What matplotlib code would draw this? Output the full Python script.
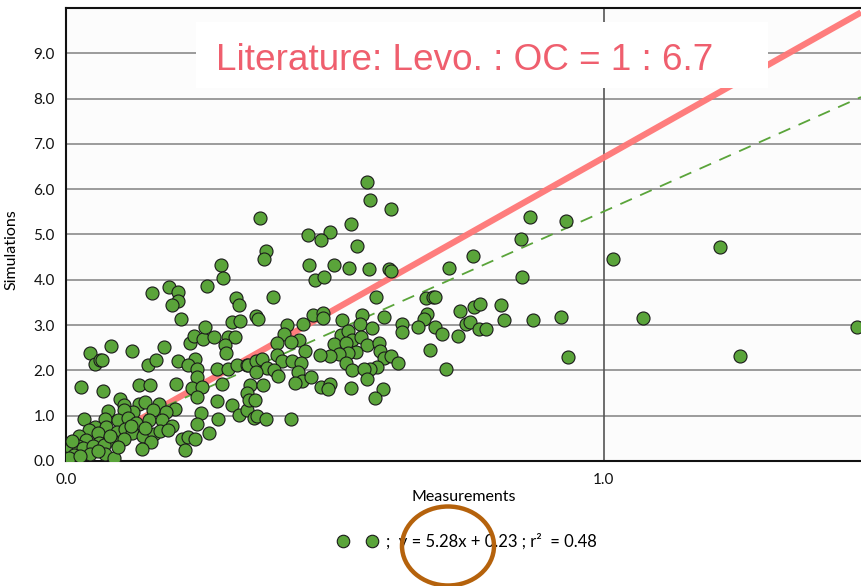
import numpy as np
import matplotlib.pyplot as plt
from matplotlib.lines import Line2D
from matplotlib.patches import Ellipse, Rectangle
from matplotlib.legend_handler import HandlerTuple

plt.rcParams['font.family'] = ['Lato', 'DejaVu Sans']

# Measured vs simulated values (x = measurements, y = simulations)
meas = np.array([
    # dense low cluster
    0.044, 0.084, 0.122, 0.054, 0.063, 0.067, 0.182, 0.152, 0.167, 0.209,
    0.231, 0.238, 0.255, 0.275, 0.301, 0.315, 0.295, 0.298, 0.240, 0.226,
    0.243, 0.244, 0.281, 0.302, 0.317, 0.337, 0.028, 0.068, 0.135, 0.157,
    0.204, 0.234, 0.253, 0.243, 0.290, 0.101, 0.107, 0.136, 0.147, 0.079,
    0.172, 0.202, 0.186, 0.162, 0.125, 0.108, 0.281, 0.309, 0.251, 0.322,
    0.336, 0.034, 0.072, 0.097, 0.115, 0.130, 0.155, 0.178, 0.197, 0.283,
    0.243, 0.054, 0.042, 0.075, 0.060, 0.095, 0.110, 0.123, 0.144, 0.163,
    0.175, 0.265, 0.216, 0.227, 0.239, 0.024, 0.037, 0.062, 0.086, 0.107,
    0.158, 0.010, 0.022, 0.032, 0.050, 0.070, 0.141, 0.222, 0.015, 0.044,
    0.073, 0.090, 0.005, 0.011, 0.026, 0.059, 0.097, 0.121, 0.147, 0.190,
    0.082,
    # upper left
    0.289, 0.291, 0.191, 0.159, 0.208, 0.208, 0.197, 0.263, 0.316, 0.321,
    0.214, 0.309, 0.324, 0.259,
    # middle, upper part
    0.559, 0.566, 0.604, 0.361, 0.530, 0.450, 0.491, 0.474, 0.541, 0.371,
    0.369, 0.451, 0.499, 0.527, 0.564, 0.601, 0.604, 0.462, 0.480, 0.384,
    0.577, 0.670, 0.682, 0.354, 0.357, 0.460, 0.478, 0.477, 0.551, 0.591,
    0.672, 0.665, 0.411, 0.441, 0.514, 0.546, 0.624, 0.655, 0.686, 0.568,
    # middle, lower part
    0.625, 0.405, 0.433, 0.393, 0.418, 0.444, 0.511, 0.524, 0.531, 0.549,
    0.559, 0.498, 0.520, 0.540, 0.525, 0.507, 0.491, 0.473, 0.520, 0.531,
    0.581, 0.583, 0.592, 0.604, 0.618, 0.578, 0.565, 0.554, 0.559, 0.677,
    0.393, 0.401, 0.421, 0.436, 0.432, 0.438, 0.426, 0.455, 0.474, 0.491,
    0.488, 0.530, 0.590, 0.574, 0.339, 0.354, 0.365, 0.373, 0.386, 0.394,
    0.354, 0.342, 0.366, 0.336, 0.340, 0.351, 0.349, 0.356, 0.372, 0.419,
    # right side
    0.862, 0.929, 0.846, 0.756, 0.712, 0.848, 1.017, 0.686, 0.732, 0.759,
    0.770, 0.809, 0.699, 0.743, 0.751, 0.768, 0.781, 0.815, 0.869, 0.920,
    0.729, 0.934, 0.707,
    1.470, 1.253, 1.216, 1.072,
])

sim = np.array([
    2.39, 2.54, 2.42, 2.14, 2.23, 2.24, 2.51, 2.12, 2.23, 2.21,
    2.61, 2.76, 2.69, 2.73, 2.74, 2.74, 2.56, 2.39, 2.25, 2.11,
    2.03, 1.86, 2.02, 2.03, 2.12, 2.12, 1.63, 1.54, 1.68, 1.68,
    1.69, 1.62, 1.63, 1.41, 1.69, 1.37, 1.24, 1.26, 1.30, 1.10,
    1.26, 1.15, 1.08, 1.13, 1.08, 1.13, 1.32, 1.24, 1.07, 1.01,
    1.13, 0.92, 0.92, 0.90, 0.94, 0.84, 0.90, 0.90, 0.78, 0.92,
    0.81, 0.76, 0.68, 0.75, 0.62, 0.65, 0.71, 0.61, 0.55, 0.60,
    0.66, 0.61, 0.49, 0.52, 0.49, 0.55, 0.46, 0.40, 0.46, 0.49,
    0.41, 0.28, 0.33, 0.28, 0.34, 0.35, 0.26, 0.24, 0.13, 0.15,
    0.15, 0.07, 0.06, 0.44, 0.11, 0.22, 0.31, 0.77, 0.73, 0.68,
    0.55,
    4.33, 4.04, 3.85, 3.71, 3.73, 3.53, 3.45, 3.86, 3.59, 3.44,
    3.13, 3.07, 3.08, 2.96,
    6.16, 5.76, 5.57, 5.37, 5.23, 4.99, 5.06, 4.88, 4.74, 4.64,
    4.45, 4.33, 4.32, 4.27, 4.24, 4.24, 4.19, 3.99, 4.07, 3.62,
    3.62, 3.59, 3.62, 3.21, 3.14, 3.23, 3.27, 3.15, 3.23, 3.18,
    3.24, 3.13, 3.00, 3.02, 3.12, 3.02, 3.02, 2.96, 2.96, 2.93,
    2.85, 2.80, 2.67, 2.61, 2.63, 2.43, 2.78, 2.87, 2.67, 2.73,
    2.56, 2.58, 2.60, 2.40, 2.39, 2.37, 2.32, 2.34, 2.17, 2.01,
    2.61, 2.43, 2.27, 2.32, 2.17, 2.08, 2.02, 2.02, 1.81, 2.46,
    2.34, 2.21, 2.21, 2.17, 1.97, 1.77, 1.73, 1.85, 1.63, 1.69,
    1.58, 1.62, 1.59, 1.39, 2.13, 2.21, 2.26, 2.05, 2.01, 1.88,
    1.96, 1.67, 1.68, 1.51, 1.34, 1.35, 0.96, 1.00, 0.93, 0.93,
    5.39, 5.30, 4.90, 4.53, 4.26, 4.06, 4.46, 3.61, 3.32, 3.40,
    3.46, 3.44, 2.81, 3.02, 3.07, 2.91, 2.91, 3.11, 3.12, 3.18,
    2.75, 2.30, 2.04,
    2.96, 2.32, 4.72, 3.15,
])

# regression fit and literature ratio
fit_slope = 5.28
fit_intercept = 0.23
fit_r2 = 0.48
lit_ratio = 6.7

green = '#5AA43A'

fig = plt.figure(figsize=(8.61, 5.86), dpi=100)
ax = fig.add_axes([66 / 861, 1 - 461 / 586, 1 - 66 / 861, (461 - 8) / 586])
ax.set_facecolor('#FCFCFC')

xmax = 1.478
ax.set_xlim(0, xmax)
ax.set_ylim(0, 10.0)

xs = np.array([0, xmax])
ax.plot(xs, lit_ratio * xs, color='#FF7676', lw=4.5, alpha=0.95,
        solid_capstyle='butt', zorder=2)
ax.plot(xs, fit_slope * xs + fit_intercept, color=green, lw=1.3,
        dashes=(7, 5), zorder=2)
ax.scatter(meas, sim, s=88, c=green, edgecolors='#1a1a1a', linewidths=0.8,
           zorder=3)

# grid
ax.set_yticks(np.arange(0, 10, 1.0))
ax.set_xticks([0, 1.0])
ax.set_yticklabels([f'{v:.1f}' for v in np.arange(0, 10, 1.0)])
ax.set_xticklabels(['0.0', '1.0'])
ax.grid(axis='y', color='#8a8a8a', lw=1.2, zorder=1)
ax.axvline(1.0, color='#555555', lw=1.2, zorder=1)
ax.set_axisbelow(True)
ax.tick_params(length=0, labelsize=11, colors='#111111')
ax.tick_params(axis='y', pad=8)
ax.tick_params(axis='x', pad=9)

for side in ['top', 'left', 'bottom']:
    ax.spines[side].set_linewidth(1.5)
    ax.spines[side].set_color('#111111')
ax.spines['right'].set_visible(False)

ax.set_xlabel('Measurements', fontsize=11.5, labelpad=2)
ax.set_ylabel('Simulations', fontsize=11.5)
ax.yaxis.set_label_coords(-0.06, 0.466)

# literature annotation box
fig.add_artist(Rectangle((196 / 861, 1 - 88 / 586), 572 / 861, 66 / 586,
                         transform=fig.transFigure, facecolor='white',
                         edgecolor='none', zorder=5))
fig.text(216 / 861, 1 - 70 / 586, f'Literature: Levo. : OC = 1 : {lit_ratio}',
         fontsize=26.6, color='#EF5F6E', va='baseline', ha='left',
         family=['Liberation Sans', 'DejaVu Sans'], zorder=6)

# legend below the axes
h = Line2D([], [], marker='o', ls='none', mfc=green, mec='#1a1a1a',
           mew=0.8, ms=9)
fig.legend([(h, h)], [f';  y = {fit_slope}x + {fit_intercept} ; r²  = {fit_r2}'],
           handler_map={tuple: HandlerTuple(ndivide=None, pad=1.2)},
           loc='center', bbox_to_anchor=(468 / 861, 1 - 541 / 586),
           frameon=False, fontsize=12, handlelength=2.2, handletextpad=0.6)

fig.add_artist(Ellipse((448 / 861, 1 - 546 / 586), 92 / 861, 79 / 586,
                       transform=fig.transFigure, fill=False,
                       edgecolor='#B5620C', lw=3.2, zorder=7))

fig.savefig('out.png', dpi=100)
